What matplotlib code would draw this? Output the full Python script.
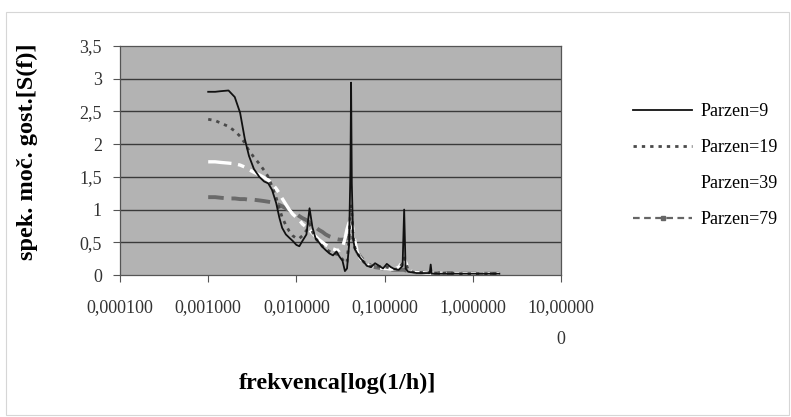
import matplotlib
matplotlib.use("Agg")
import matplotlib.pyplot as plt
from matplotlib.lines import Line2D
from matplotlib.patches import Rectangle

plt.rcParams['font.family'] = ['Liberation Serif', 'DejaVu Serif']

# frequency grid [1/h]
freq = [0.0010, 0.0012, 0.0014, 0.0017, 0.0020, 0.0023, 0.0026, 0.0029, 0.0033,
        0.0038, 0.0043, 0.0048, 0.0053, 0.0059, 0.0064, 0.0069, 0.0076, 0.0083,
        0.0091, 0.0100, 0.0108, 0.0117, 0.0130, 0.0141, 0.0152, 0.0165, 0.0180,
        0.0197, 0.0215, 0.0237, 0.0260, 0.0285, 0.0308, 0.0333, 0.0355, 0.0375,
        0.0395, 0.0410, 0.0417, 0.0425, 0.0440, 0.0460, 0.0490, 0.0530, 0.0580,
        0.0630, 0.0700, 0.0780, 0.0870, 0.0960, 0.1060, 0.1180, 0.1300, 0.1450,
        0.1600, 0.1667, 0.1730, 0.1850, 0.2050, 0.2300, 0.2600, 0.2950, 0.3250,
        0.3333, 0.3420, 0.3800, 0.4500, 0.5500, 0.7000, 0.9000, 1.2000, 1.6000,
        2.0000]

parzen9 = [2.80, 2.80, 2.81, 2.82, 2.72, 2.48, 2.08, 1.82, 1.62,
           1.50, 1.43, 1.40, 1.30, 1.10, 0.88, 0.72, 0.62, 0.57,
           0.52, 0.46, 0.44, 0.52, 0.62, 1.02, 0.73, 0.56, 0.50,
           0.43, 0.38, 0.33, 0.30, 0.36, 0.28, 0.22, 0.06, 0.10,
           0.45, 1.60, 2.94, 1.40, 0.55, 0.40, 0.33, 0.26, 0.20,
           0.14, 0.12, 0.18, 0.14, 0.10, 0.17, 0.12, 0.09, 0.08,
           0.14, 1.00, 0.10, 0.05, 0.04, 0.03, 0.03, 0.03, 0.03,
           0.16, 0.02, 0.02, 0.02, 0.02, 0.02, 0.02, 0.02, 0.02,
           0.02]

parzen19 = [2.38, 2.36, 2.32, 2.27, 2.20, 2.12, 2.02, 1.90, 1.80,
            1.70, 1.60, 1.50, 1.35, 1.18, 1.02, 0.88, 0.76, 0.67,
            0.60, 0.56, 0.56, 0.60, 0.68, 0.78, 0.66, 0.56, 0.50,
            0.44, 0.40, 0.36, 0.33, 0.32, 0.30, 0.24, 0.18, 0.20,
            0.55, 0.95, 1.08, 0.95, 0.60, 0.42, 0.34, 0.26, 0.20,
            0.16, 0.13, 0.14, 0.13, 0.12, 0.12, 0.10, 0.09, 0.10,
            0.18, 0.26, 0.18, 0.08, 0.05, 0.04, 0.04, 0.03, 0.04,
            0.06, 0.03, 0.03, 0.03, 0.03, 0.02, 0.02, 0.02, 0.02,
            0.02]

parzen39 = [1.73, 1.73, 1.72, 1.71, 1.70, 1.68, 1.65, 1.61, 1.57,
            1.53, 1.49, 1.45, 1.40, 1.32, 1.25, 1.17, 1.08, 1.00,
            0.93, 0.88, 0.84, 0.78, 0.73, 0.69, 0.64, 0.59, 0.54,
            0.50, 0.46, 0.43, 0.40, 0.38, 0.38, 0.42, 0.55, 0.70,
            0.80, 0.82, 0.82, 0.80, 0.68, 0.52, 0.36, 0.26, 0.20,
            0.16, 0.13, 0.12, 0.11, 0.10, 0.10, 0.09, 0.09, 0.12,
            0.20, 0.25, 0.20, 0.10, 0.05, 0.04, 0.04, 0.03, 0.03,
            0.04, 0.03, 0.03, 0.03, 0.02, 0.02, 0.02, 0.02, 0.02,
            0.02]

parzen79 = [1.19, 1.19, 1.18, 1.17, 1.17, 1.16, 1.16, 1.15, 1.15,
            1.14, 1.13, 1.12, 1.11, 1.09, 1.07, 1.05, 1.02, 0.99,
            0.96, 0.93, 0.90, 0.87, 0.84, 0.80, 0.77, 0.73, 0.69,
            0.66, 0.62, 0.59, 0.57, 0.55, 0.54, 0.54, 0.55, 0.56,
            0.57, 0.57, 0.57, 0.56, 0.50, 0.43, 0.35, 0.28, 0.22,
            0.18, 0.14, 0.12, 0.11, 0.10, 0.09, 0.08, 0.08, 0.08,
            0.08, 0.08, 0.07, 0.06, 0.05, 0.04, 0.04, 0.03, 0.03,
            0.03, 0.03, 0.03, 0.03, 0.03, 0.02, 0.02, 0.02, 0.02,
            0.02]

x_ticks = [0.0001, 0.001, 0.01, 0.1, 1.0, 10.0]
x_tick_labels = ['0,000100', '0,001000', '0,010000', '0,100000', '1,000000', '10,00000\n0']
y_ticks = [0, 0.5, 1, 1.5, 2, 2.5, 3, 3.5]
y_tick_labels = ['0', '0,5', '1', '1,5', '2', '2,5', '3', '3,5']
series_labels = ['Parzen=9', 'Parzen=19', 'Parzen=39', 'Parzen=79']

fig = plt.figure(figsize=(7.91, 4.17), dpi=100)
fig.patch.set_facecolor('white')
fig.add_artist(Rectangle((0.008, 0.005), 0.99, 0.967, transform=fig.transFigure,
                         fill=False, edgecolor='#d6d6d6', linewidth=0.8))

ax = fig.add_axes([0.1517, 0.3405, 0.5575, 0.5492])
ax.set_facecolor('#b3b3b3')
ax.set_xscale('log')
ax.set_xlim(0.0001, 10)
ax.set_ylim(0, 3.5)

for y in y_ticks[1:-1]:
    ax.axhline(y, color='#3a3a3a', linewidth=1.0, zorder=1)

ax.plot(freq, parzen79, color='#6a6a6a', linewidth=2.8, linestyle=(0, (4, 2)), zorder=2)
ax.plot(freq, parzen39, color='white', linewidth=2.4, linestyle=(0, (7, 2, 2, 2)), zorder=3)
ax.plot(freq, parzen19, color='#4a4a4a', linewidth=2.0, linestyle=(0, (1.2, 1.8)), zorder=4)
ax.plot(freq, parzen9, color='#111111', linewidth=1.3, zorder=5)

ax.set_xticks(x_ticks)
ax.set_xticklabels(x_tick_labels, fontsize=13, color='#333333', linespacing=2.2)
ax.xaxis.set_minor_locator(matplotlib.ticker.NullLocator())
ax.set_yticks(y_ticks)
ax.set_yticklabels(y_tick_labels, fontsize=13, color='#333333')
ax.tick_params(axis='both', direction='out', length=5, width=0.8, color='#555555')
ax.tick_params(axis='x', pad=12)
ax.tick_params(axis='y', pad=8)
for s in ax.spines.values():
    s.set_color('#555555')
    s.set_linewidth(0.9)

ax.set_xlabel('frekvenca[log(1/h)]', fontsize=17.5, fontweight='bold')
ax.set_ylabel('spek. moč. gost.[S(f)]', fontsize=17.5, fontweight='bold')
ax.xaxis.set_label_coords(0.494, -0.472)
ax.xaxis.label.set_va('center')
ax.yaxis.set_label_coords(-0.209, 0.537)
ax.yaxis.label.set_va('center')
ax.yaxis.label.set_ha('center')

handles = [
    Line2D([], [], color='#111111', linewidth=1.3),
    Line2D([], [], color='#4a4a4a', linewidth=2.0, linestyle=(0, (1.2, 1.8))),
    Line2D([], [], color='white', linewidth=2.4, linestyle=(0, (7, 2, 2, 2))),
    Line2D([], [], color='#666666', linewidth=1.6, linestyle=(0, (3, 2)),
           marker='s', markersize=2.5),
]
fig.legend(handles, series_labels, loc='upper left', bbox_to_anchor=(0.800, 0.753),
           frameon=False, fontsize=13, handlelength=3.3, handletextpad=0.45,
           labelspacing=1.05, numpoints=1, borderaxespad=0, borderpad=0)

fig.savefig('out.png', dpi=100)
